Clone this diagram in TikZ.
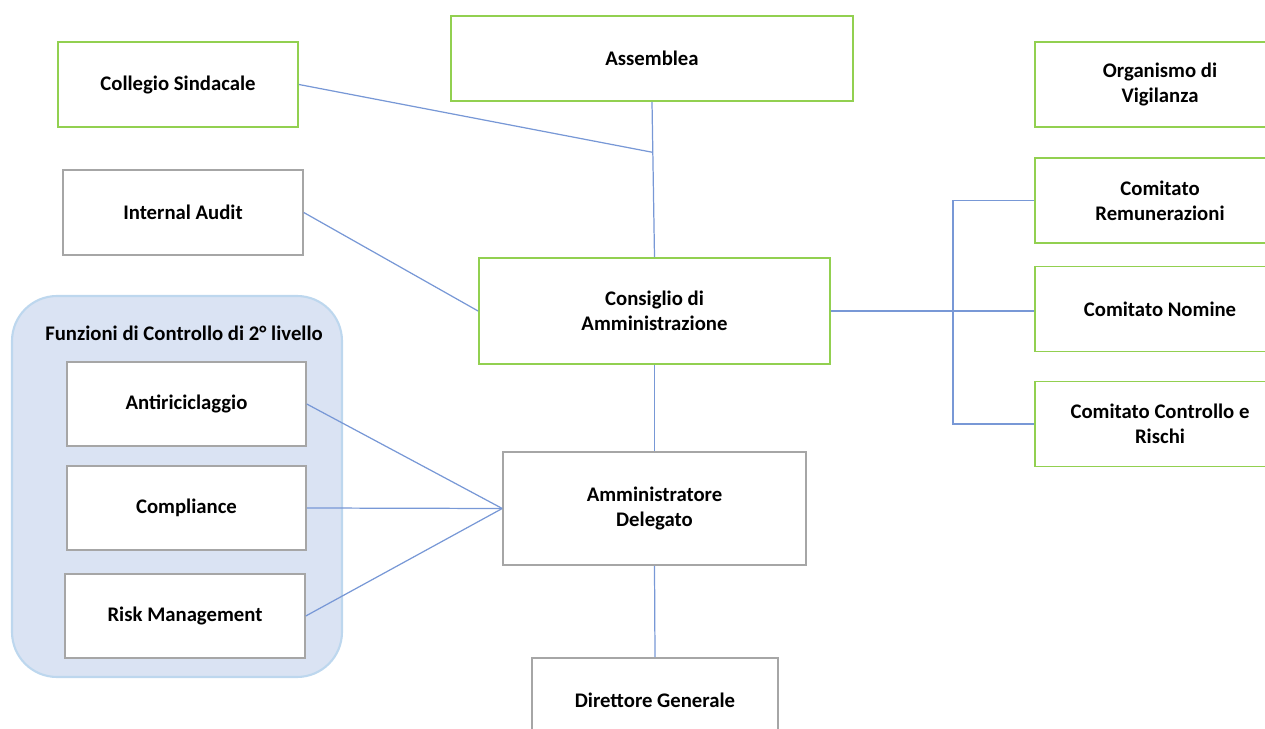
\documentclass[tikz,border=0pt]{standalone}
\usepackage{fontspec}
\setmainfont{Carlito}
\usetikzlibrary{calc}
\definecolor{boxgreen}{RGB}{146,208,80}
\definecolor{boxgray}{RGB}{166,166,166}
\definecolor{linkblue}{RGB}{120,152,214}
\definecolor{grpfill}{RGB}{218,227,243}
\definecolor{grpline}{RGB}{189,215,238}
\tikzset{
  boxfont/.style={font=\fontsize{11.8}{14.2}\selectfont\bfseries},
  unit/.style={rectangle, fill=white, align=center, boxfont,
    inner sep=0pt, minimum width=4.8cm, minimum height=1.7cm},
  greenbox/.style={unit, draw=boxgreen, line width=1.1pt},
  graybox/.style={unit, draw=boxgray, line width=0.9pt},
  link/.style={draw=linkblue, line width=0.7pt}
}
\begin{document}
\begin{tikzpicture}[x=0.02cm, y=-0.02cm]
    \useasboundingbox (0,0) rectangle (1265,729);
    \clip (0,0) rectangle (1265,729);

    % group of second level control functions
    \draw [fill=grpfill, draw=grpline, line width=1.2pt, rounded corners=0.9cm] (12,296) rectangle (342,677);
    \node (grp) at (184,333) [boxfont] {Funzioni di Controllo di 2° livello};

    % governing bodies
    \node (asm)  at (652,58.5)  [greenbox, minimum width=8.04cm] {Assemblea};
    \node (cs)   at (178,84.5)  [greenbox] {Collegio Sindacale};
    \node (ia)   at (183,212.5) [graybox] {Internal Audit};
    \node (cda)  at (654.5,311) [greenbox, minimum width=7.02cm, minimum height=2.12cm] {Consiglio di\\Amministrazione};
    \node (ad)   at (654.5,508.5) [graybox, minimum width=6.06cm, minimum height=2.26cm] {Amministratore\\Delegato};
    \node (dg)   at (655,700)   [graybox, minimum width=4.92cm, minimum height=1.68cm] {Direttore Generale};

    % committees
    \node (odv)  at (1160,84.5) [greenbox, minimum width=5cm] {Organismo di\\Vigilanza};
    \node (crem) at (1160,200.5) [greenbox, minimum width=5cm] {Comitato\\Remunerazioni};
    \node (cnom) at (1160,309)  [greenbox, minimum width=5cm] {Comitato Nomine};
    \node (ccr)  at (1160,424)  [greenbox, minimum width=5cm] {Comitato Controllo e\\Rischi};

    % control functions
    \node (anti) at (186.5,404) [graybox, minimum width=4.78cm, minimum height=1.68cm] {Antiriciclaggio};
    \node (comp) at (186.5,508) [graybox, minimum width=4.78cm, minimum height=1.68cm] {Compliance};
    \node (risk) at (185,616)   [graybox, minimum width=4.8cm, minimum height=1.68cm] {Risk Management};

    % connectors
    \coordinate (j) at ($(asm.south)!0.325!(cda.north)$);
    \coordinate (bx) at (953,311);
    \draw [link] (asm.south) -- (cda.north);
    \draw [link] (cs.east) -- (j);
    \draw [link] (ia.east) -- (cda.west);
    \draw [link] (cda.south) -- (ad.north);
    \draw [link] (ad.south) -- (dg.north);
    \draw [link] (cda.east) -- (cda.east -| cnom.west);
    \draw [link] (crem.west) -| (bx) |- (ccr.west);
    \draw [link] (anti.east) -- (ad.west);
    \draw [link] (comp.east) -- (ad.west);
    \draw [link] (risk.east) -- (ad.west);
\end{tikzpicture}
\end{document}
